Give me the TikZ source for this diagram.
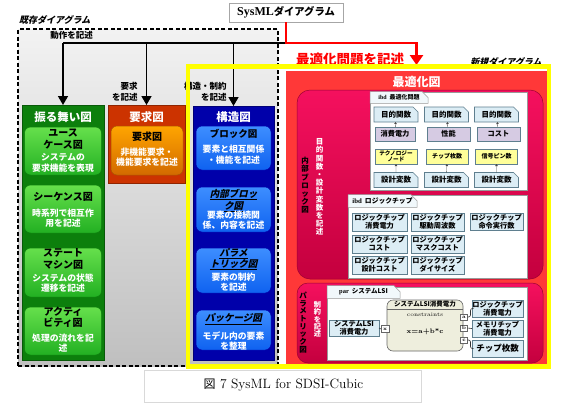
\documentclass[tikz,border=0pt]{standalone}
\usepackage{fontspec}
\setmainfont{Noto Sans CJK JP}
\newfontfamily\jpi{Noto Sans CJK JP}[FakeSlant=0.22,BoldFeatures={FakeSlant=0.22}]
\newfontfamily\lsf{Liberation Serif}
\newfontfamily\lmr{Latin Modern Roman}
\newcommand\myul[1]{\setbox0\hbox{#1}\rlap{\rule[-2.3pt]{\wd0}{0.6pt}}\box0}
\usetikzlibrary{arrows.meta,shapes.misc}
\definecolor{bgreen}{HTML}{0C7F0C}
\definecolor{lgreenT}{HTML}{66E04C}
\definecolor{lgreenB}{HTML}{22B022}
\definecolor{rorange}{HTML}{CC3300}
\definecolor{orT}{HTML}{FFA500}
\definecolor{orB}{HTML}{D26A00}
\definecolor{dblue}{HTML}{0000AA}
\definecolor{lblueT}{HTML}{3D8EFF}
\definecolor{lblueB}{HTML}{0F62F0}
\definecolor{optred}{HTML}{FF3838}
\definecolor{pinkT}{HTML}{F5105E}
\definecolor{pinkB}{HTML}{C4003E}
\definecolor{ibdblue}{HTML}{DCEDF5}
\definecolor{ibdedge}{HTML}{5F7F8F}
\definecolor{ibdpurple}{HTML}{D6CBE3}
\definecolor{ibdyellow}{HTML}{FFFF99}
\definecolor{cbeige}{HTML}{EEEEDD}
\definecolor{yel}{HTML}{FFFF00}
\tikzset{
  every node/.style={inner sep=0pt, outer sep=0pt},
  legacybox/.style={draw=black, dash pattern=on 4pt off 2.5pt, line width=1.1pt, top color=black!5, bottom color=black!25},
  behavbox/.style={fill=bgreen, draw=bgreen!70!black, line width=0.5pt},
  reqbox/.style={fill=rorange, draw=rorange!70!black, line width=0.5pt},
  structbox/.style={fill=dblue, draw=dblue!70!black, line width=0.5pt},
  greenbtn/.style={rounded corners=6pt, top color=lgreenT, bottom color=lgreenB, draw=bgreen, line width=0.5pt},
  orbtn/.style={rounded corners=6pt, top color=orT, bottom color=orB, draw=orB!80!black, line width=0.5pt},
  bluebtn/.style={rounded corners=6pt, top color=lblueT, bottom color=lblueB, draw=dblue, line width=0.5pt},
  titlew/.style={text=white, font=\fontsize{11.5}{13}\selectfont\bfseries},
  btnT/.style={text=black, align=center, font=\fontsize{10}{11.5}\selectfont\bfseries},
  btnTi/.style={text=black, align=center, font=\jpi\fontsize{9.5}{11.5}\selectfont\bfseries},
  btnD/.style={text=white, align=center, font=\fontsize{8.8}{10.3}\selectfont\bfseries},
  smlbl/.style={text=black, font=\fontsize{8.5}{10.5}\selectfont\bfseries},
  itlbl/.style={text=black, font=\jpi\fontsize{9}{10}\selectfont\bfseries},
  blk/.style={line width=1.6pt, black},
  blkarrow/.style={blk, -{Triangle[length=9pt,width=10pt]}},
  redarrow/.style={line width=2.5pt, red, -{Triangle[length=10pt,width=13pt]}},
  pinkbox/.style={rounded corners=13pt, top color=pinkT, bottom color=pinkB, draw=pinkB!80!black, line width=0.5pt},
  vtxt/.style={align=center, font=\fontsize{7.5}{8.2}\selectfont\bfseries},
  frame/.style={fill=white, draw=gray!80, line width=0.6pt},
  tabbox/.style={chamfered rectangle, chamfered rectangle corners=north east, chamfered rectangle xsep=3pt, chamfered rectangle ysep=3pt, fill=ibdblue!40, draw=gray!80, line width=0.5pt, font=\fontsize{6}{7}\selectfont\bfseries},
  notebox/.style={chamfered rectangle, chamfered rectangle corners=north east, chamfered rectangle xsep=2.5pt, chamfered rectangle ysep=2.5pt, fill=ibdblue, draw=ibdedge, line width=0.6pt, font=\fontsize{7.5}{8.5}\selectfont\bfseries},
  ibdbox/.style={fill=#1, draw=ibdedge, line width=0.6pt, align=center, font=\fontsize{7.2}{8}\selectfont\bfseries},
  tinyarrow/.style={gray!60!black, line width=0.4pt, {Triangle[length=2pt,width=2.5pt]}-},
  portbox/.style={fill=white, draw=gray!80!black, line width=0.5pt, font=\lmr\fontsize{5}{5}\selectfont\bfseries},
  conn/.style={gray!40!black, line width=0.6pt, rounded corners=2pt},
}
\begin{document}
\begin{tikzpicture}[x=1pt,y=-1pt]
\useasboundingbox (0,0) rectangle (567,407);
\fill[white] (0,0) rectangle (567,407);

% ---- SysML top box
\node[draw=gray!70, fill=white, line width=0.6pt, minimum width=114pt, minimum height=19pt] (sysml) at (286,12.5)
  {\lsf\fontsize{12}{13}\selectfont\bfseries SysML\fontspec{Noto Sans CJK JP}\fontsize{10.3}{12}\selectfont\bfseries ダイアグラム};

% ---- legacy region
\node[legacybox, minimum width=260pt, minimum height=337pt] (legacy) at (148,197.5) {};
\node[itlbl, anchor=west] (legacylbl) at (19,20) {既存ダイアグラム};
\node[smlbl] (lblbehav) at (71.5,35) {動作を記述};
\node[smlbl, align=right, anchor=east] (lblreq) at (137.5,91.5) {要求\\を記述};
\node[smlbl, align=right, anchor=east] (lblstruct) at (226.5,91.5) {構造・制約\\を記述};

% behaviour diagrams
\node[behavbox, minimum width=82pt, minimum height=255pt] (behav) at (63,232.5) {};
\node[titlew] (behavT) at (63,117) {振る舞い図};
\node[greenbtn, minimum width=77pt, minimum height=48pt] (g1) at (63,151) {};
\node[btnT] (g1t) at (63,139) {ユース\\ケース図};
\node[btnD] (g1d) at (63,163) {システムの\\要求機能を表現};
\node[greenbtn, minimum width=77pt, minimum height=48pt] (g2) at (63,209) {};
\node[btnT] (g2t) at (63,197) {シーケンス図};
\node[btnD] (g2d) at (63,218) {時系列で相互作\\用を記述};
\node[greenbtn, minimum width=77pt, minimum height=49pt] (g3) at (63,272.5) {};
\node[btnT] (g3t) at (63,259) {ステート\\マシン図};
\node[btnD] (g3d) at (63,283) {システムの状態\\遷移を記述};
\node[greenbtn, minimum width=77pt, minimum height=48pt] (g4) at (63,331) {};
\node[btnT] (g4t) at (63,317.5) {アクティ\\ビティ図};
\node[btnD] (g4d) at (63,343) {処理の流れを記\\述};

% requirement diagram
\node[reqbox, minimum width=77pt, minimum height=78pt] (req) at (146.5,144) {};
\node[titlew] (reqT) at (146.5,117) {要求図};
\node[orbtn, minimum width=72pt, minimum height=49pt] (r1b) at (147,150.5) {};
\node[btnT] (r1t) at (147,137) {要求図};
\node[btnD] (r1d) at (147,157) {非機能要求・\\機能要求を記述};

% structure diagrams
\node[structbox, minimum width=81pt, minimum height=254pt] (struct) at (233.5,233) {};
\node[titlew] (structT) at (233.5,117) {構造図};
\node[bluebtn, minimum width=75pt, minimum height=44pt] (b1) at (233.5,148) {};
\node[btnT, font=\fontsize{9.5}{11}\selectfont\bfseries] (b1t) at (233.5,134) {ブロック図};
\node[btnD] (b1d) at (233.5,154.5) {要素と相互関係\\・機能を記述};
\node[bluebtn, minimum width=75pt, minimum height=45pt] (b2) at (233.5,209.5) {};
\node[btnTi] (b2t) at (233.5,200.5) {\myul{内部ブロッ}\\\myul{ク図}};
\node[btnD] (b2d) at (233.5,220.5) {要素の接続関\\係、内容を記述};
\node[bluebtn, minimum width=75pt, minimum height=45pt] (b3) at (233.5,270.5) {};
\node[btnTi] (b3t) at (233.5,259) {\myul{パラメ}\\\myul{トリック図}};
\node[btnD] (b3d) at (233.5,282) {要素の制約\\を記述};
\node[bluebtn, minimum width=75pt, minimum height=40pt] (b4) at (233.5,330) {};
\node[btnTi] (b4t) at (233.5,319) {\myul{パッケージ図}};
\node[btnD] (b4d) at (233.5,341) {モデル内の要素\\を整理};

% ---- black connectors
\coordinate (jR) at (286,43);
\coordinate (jL) at (63,43);
\coordinate (jO) at (146.5,43);
\coordinate (jB) at (233.5,43);
\draw[blk] (jR) -- (jL);
\draw[blkarrow] (jL) -- (behav.north);
\draw[blkarrow] (jO) -- (req.north);
\draw[blkarrow] (jB) -- (struct.north);

% ---- optimisation region
\node[fill=optred, minimum width=261pt, minimum height=293pt] (opt) at (416.5,217.5) {};
\node[titlew, font=\fontsize{12}{13}\selectfont\bfseries] (optT) at (416.5,82) {最適化図};
\node[text=red, font=\fontsize{13.5}{15}\selectfont\bfseries] (optlbl) at (350,59) {最適化問題を記述};
\node[itlbl] (newlbl) at (506,62) {新規ダイアグラム};
\draw[redarrow, shorten >=6pt] (sysml.south) -- (jR) -| (opt.north);

% internal block diagram part
\node[pinkbox, minimum width=246pt, minimum height=189pt] (ibdpink) at (420,184.5) {};
\node[vtxt, text=black] (v1) at (305,185.5) {内\\部\\ブ\\ロ\\ッ\\ク\\図};
\node[vtxt, text=white] (v2) at (319.5,187) {目\\的\\関\\数\\・\\設\\計\\変\\数\\を\\記\\述};

\node[frame, minimum width=157pt, minimum height=98pt] (ibdA) at (448.5,141) {};
\node[tabbox, minimum width=58pt, minimum height=11pt] (ibdAtab) at (399,97.5) {{\lsf ibd}\ \ 最適化問題};
\node[notebox, minimum width=44pt, minimum height=15pt] (o1) at (396,114.5) {目的関数};
\node[notebox, minimum width=44pt, minimum height=15pt] (o2) at (446.5,114.5) {目的関数};
\node[notebox, minimum width=44pt, minimum height=15pt] (o3) at (496.5,114.5) {目的関数};
\node[ibdbox=ibdpurple, minimum width=40pt, minimum height=14pt] (p1) at (395,134) {消費電力};
\node[ibdbox=ibdpurple, minimum width=43pt, minimum height=14pt] (p2) at (448.5,134) {性能};
\node[ibdbox=ibdpurple, minimum width=43pt, minimum height=14pt] (p3) at (498.5,134) {コスト};
\node[ibdbox=ibdyellow, minimum width=42pt, minimum height=15pt, font=\fontsize{5.6}{6.4}\selectfont\bfseries] (y1) at (396,156.5) {テクノロジー\\ノード};
\node[ibdbox=ibdyellow, minimum width=42pt, minimum height=15pt, font=\fontsize{6}{7}\selectfont\bfseries] (y2) at (447,156.5) {チップ枚数};
\node[ibdbox=ibdyellow, minimum width=42pt, minimum height=15pt, font=\fontsize{6}{7}\selectfont\bfseries] (y3) at (496.5,156.5) {信号ピン数};
\node[notebox, minimum width=44pt, minimum height=15pt] (d1) at (396,180) {設計変数};
\node[notebox, minimum width=44pt, minimum height=15pt] (d2) at (446.5,180) {設計変数};
\node[notebox, minimum width=44pt, minimum height=15pt] (d3) at (496.5,180) {設計変数};
\draw[tinyarrow] (o1) -- (p1);
\draw[tinyarrow] (o2) -- (p2);
\draw[tinyarrow] (o3) -- (p3);
\draw[tinyarrow] (y1) -- (d1);
\draw[tinyarrow] (y2) -- (d2);
\draw[tinyarrow] (y3) -- (d3);

\node[frame, minimum width=179pt, minimum height=83pt] (ibdB) at (437.5,236.5) {};
\node[tabbox, minimum width=69pt, minimum height=12pt, font=\fontsize{6.8}{8}\selectfont\bfseries] (ibdBtab) at (382.5,201) {{\lsf ibd}\ \ ロジックチップ};
\node[ibdbox=ibdblue, minimum width=55pt, minimum height=18pt] (lc1) at (379.5,222) {ロジックチップ\\消費電力};
\node[ibdbox=ibdblue, minimum width=53pt, minimum height=18pt] (lc2) at (437.5,222) {ロジックチップ\\駆動周波数};
\node[ibdbox=ibdblue, minimum width=53pt, minimum height=17pt] (lc3) at (496.5,221.5) {ロジックチップ\\命令実行数};
\node[ibdbox=ibdblue, minimum width=55pt, minimum height=18pt] (lc4) at (379.5,244) {ロジックチップ\\コスト};
\node[ibdbox=ibdblue, minimum width=53pt, minimum height=18pt] (lc5) at (437.5,244) {ロジックチップ\\マスクコスト};
\node[ibdbox=ibdblue, minimum width=55pt, minimum height=18pt] (lc6) at (379.5,265) {ロジックチップ\\設計コスト};
\node[ibdbox=ibdblue, minimum width=53pt, minimum height=18pt] (lc7) at (437.5,265) {ロジックチップ\\ダイサイズ};

% parametric part
\node[pinkbox, rounded corners=11pt, minimum width=246pt, minimum height=80pt] (parpink) at (420,323) {};
\node[vtxt, text=black, font=\fontsize{7.5}{7.7}\selectfont\bfseries] (v3) at (303,322.5) {パ\\ラ\\メ\\ト\\リ\\ッ\\ク\\図};
\node[vtxt, text=white, font=\fontsize{7.2}{7.3}\selectfont\bfseries] (v4) at (317.5,319.5) {制\\約\\を\\記\\述};
\node[frame, minimum width=200pt, minimum height=73pt] (parF) at (427,323.5) {};
\node[tabbox, minimum width=73pt, minimum height=10pt, font=\fontsize{6.5}{7.5}\selectfont\bfseries] (parTab) at (363.5,292) {{\lsf par}\ \ システムLSI};
\node[ibdbox=ibdblue, minimum width=50pt, minimum height=16pt] (sysLSI) at (354,328) {システムLSI\\消費電力};
\node[rounded corners=6pt, fill=cbeige, draw=gray!80!black, line width=0.6pt, minimum width=76pt, minimum height=51pt] (cons) at (425,325.5) {};
\node[font=\fontsize{6.5}{7.5}\selectfont\bfseries] (consT) at (425,304.5) {システムLSI消費電力};
\draw[gray!80!black, line width=0.5pt] ([yshift=-9.5pt]cons.north west) -- ([yshift=-9.5pt]cons.north east);
\node[font=\lmr\fontsize{5.5}{6}\selectfont] (consK) at (425,315) {constraints};
\node[font=\lmr\fontsize{6.5}{7}\selectfont\bfseries] (consE) at (425,332) {x=a+b*c};
\node[portbox, minimum width=8pt, minimum height=7pt] (px) at (385,329) {x};
\node[portbox, minimum width=7pt, minimum height=6pt] (pa) at (464,317) {a};
\node[portbox, minimum width=7pt, minimum height=6pt] (pb) at (464,328) {b};
\node[portbox, minimum width=7pt, minimum height=6pt] (pc) at (464,340) {c};
\node[ibdbox=ibdblue, minimum width=51pt, minimum height=17pt] (pr1) at (497.5,308.5) {ロジックチップ\\消費電力};
\node[ibdbox=ibdblue, minimum width=51pt, minimum height=17pt] (pr2) at (497.5,328.5) {メモリチップ\\消費電力};
\node[ibdbox=ibdblue, minimum width=51pt, minimum height=17pt, font=\fontsize{8.5}{9}\selectfont\bfseries] (pr3) at (497.5,348.5) {チップ枚数};
\draw[conn] (sysLSI.east) -- (px.west);
\draw[conn] (pa.east) -- ++(3pt,0) |- (pr1.west);
\draw[conn] (pb.east) -- (pr2.west);
\draw[conn] (pc.east) -- ++(3pt,0) |- (pr3.west);

% yellow frame of the new diagrams
\node[draw=yel, line width=4.5pt, minimum width=361pt, minimum height=300pt] (newbox) at (368.5,216.5) {};

% caption
\node[draw=gray!30, fill=white, line width=0.8pt, minimum width=277pt, minimum height=32pt] (caption) at (282.5,386) {};
\node[font=\lmr\fontsize{13.5}{15}\selectfont] (captxt) at (283.5,385) {{\fontspec{Noto Sans CJK JP}\fontsize{12}{13}\selectfont 図}\ 7\ SysML for SDSI-Cubic};
\end{tikzpicture}
\end{document}
